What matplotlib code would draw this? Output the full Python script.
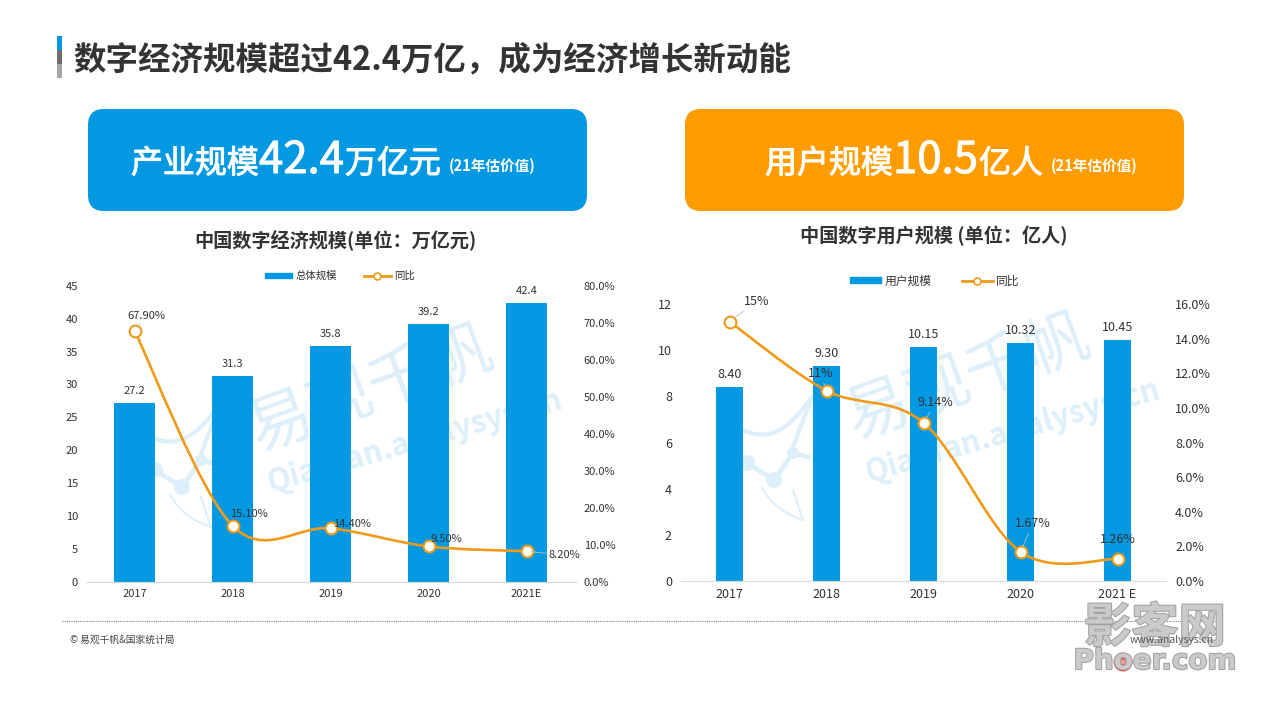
import matplotlib
matplotlib.use("Agg")
import matplotlib.pyplot as plt
import matplotlib.patheffects as pe
from matplotlib.lines import Line2D
from matplotlib.patches import Circle, FancyBboxPatch, PathPatch, Patch, Rectangle
from matplotlib.path import Path

plt.rcParams["font.family"] = ["Noto Sans CJK SC", "DejaVu Sans"]

BLUE = "#0398E2"
ORANGE = "#F09A1A"
DARK = "#333333"

years = ["2017", "2018", "2019", "2020", "2021E"]
years_right = ["2017", "2018", "2019", "2020", "2021 E"]

scale_values = [27.2, 31.3, 35.8, 39.2, 42.4]
scale_growth = [67.9, 15.1, 14.4, 9.5, 8.2]
scale_growth_labels = ["67.90%", "15.10%", "14.40%", "9.50%", "8.20%"]

user_values = [8.40, 9.30, 10.15, 10.32, 10.45]
user_growth = [15, 11, 9.14, 1.67, 1.26]
user_growth_labels = ["15%", "11%", "9.14%", "1.67%", "1.26%"]


def px_axes(fig, left, top, right, bottom):
    return fig.add_axes([left / 1280, 1 - bottom / 720, (right - left) / 1280, (bottom - top) / 720])


# Smoothed line like the office chart: bezier segments through the data points
def smooth_path(x, y):
    verts = [(x[0], y[0])]
    codes = [Path.MOVETO]
    n = len(x)
    for i in range(n - 1):
        x0, y0 = (x[i - 1], y[i - 1]) if i > 0 else (x[i], y[i])
        x3, y3 = (x[i + 2], y[i + 2]) if i + 2 < n else (x[i + 1], y[i + 1])
        verts.append((x[i] + (x[i + 1] - x0) / 6, y[i] + (y[i + 1] - y0) / 6))
        verts.append((x[i + 1] - (x3 - x[i]) / 6, y[i + 1] - (y3 - y[i]) / 6))
        verts.append((x[i + 1], y[i + 1]))
        codes += [Path.CURVE4] * 3
    return Path(verts, codes)


def draw_chart(fig, box, labels, values, growth, growth_labels, offsets, leaders, opts):
    ax = px_axes(fig, *box)
    ax.patch.set_alpha(0)
    xs = list(range(len(labels)))
    bars = ax.bar(xs, values, width=opts["bar_width"], color=BLUE, zorder=2)
    ax.bar_label(bars, labels=opts["value_labels"], padding=opts["label_pad"], fontsize=opts["fs"], color=DARK)
    ax.set_xlim(-0.5, 4.5)
    ax.set_ylim(0, opts["ymax"])
    ax.set_yticks(opts["yticks"])
    ax.set_xticks(xs, labels)
    ax.tick_params(length=0, labelsize=opts["fs"], labelcolor=DARK)
    ax.tick_params(axis="x", pad=opts["xpad"])
    ax.tick_params(axis="y", pad=opts["lpad"])
    for s in ["top", "left", "right"]:
        ax.spines[s].set_visible(False)
    ax.spines["bottom"].set_color("#D9D9D9")

    ax2 = ax.twinx()
    ax2.patch.set_alpha(0)
    ax2.set_ylim(0, opts["y2max"])
    ax2.set_yticks(opts["y2ticks"], [f"{t:.1f}%" for t in opts["y2ticks"]])
    ax2.tick_params(length=0, labelsize=opts["fs"], labelcolor=DARK, pad=opts["rpad"])
    for s in ax2.spines.values():
        s.set_visible(False)
    ax2.add_patch(PathPatch(smooth_path(xs, growth), fill=False, edgecolor=ORANGE, lw=1.9, capstyle="round", zorder=3))
    ax2.plot(xs, growth, ls="none", marker="o", ms=8.5, mfc="white", mec=ORANGE, mew=1.5, zorder=4)

    for i, txt in enumerate(growth_labels):
        arrow = dict(arrowstyle="-", color="#BFBFBF", lw=0.6, shrinkA=0, shrinkB=3) if leaders[i] else None
        ax2.annotate(txt, (xs[i], growth[i]), xytext=offsets[i], textcoords="offset pixels",
                     ha="center", va="center", fontsize=opts["fs"], color=DARK, arrowprops=arrow, zorder=5)

    handles = [
        Patch(color=BLUE, label=opts["bar_name"]),
        Line2D([], [], color=ORANGE, lw=2, marker="o", ms=5, mfc="white", mec=ORANGE, mew=1.2, label="同比"),
    ]
    fig.legend(handles=handles, loc="center", bbox_to_anchor=opts["legend_at"], ncol=2, frameon=False,
               fontsize=opts["legend_fs"], labelcolor=DARK, handlelength=2.6, handleheight=0.35,
               columnspacing=2.6, handletextpad=0.3)
    return ax


fig = plt.figure(figsize=(12.8, 7.2), dpi=100, facecolor="white")
bg = fig.add_axes([0, 0, 1, 1])
bg.set_xlim(0, 1280)
bg.set_ylim(720, 0)
bg.axis("off")

# title block
for top, h, c in [(36, 14, BLUE), (50, 14, "#6E6E6E"), (64, 14, "#A6A6A6")]:
    bg.add_patch(Rectangle((57, top), 5, h, color=c, lw=0))
bg.text(73, 69, "数字经济规模超过42.4万亿，成为经济增长新动能", fontsize=23.4, fontweight="bold", color=DARK, va="baseline")

# headline boxes
for left, c in [(88, BLUE), (685, "#FF9C00")]:
    bg.add_patch(FancyBboxPatch((left + 16, 125), 499 - 32, 102 - 32, boxstyle="round,pad=16",
                                fc=c, ec="none"))
thick = [pe.withStroke(linewidth=0.7, foreground="white")]
for x, txt, fs in [(131, "产业规模", 23), (259, "42.4", 31.5), (345, "万亿元", 23),
                   (765, "用户规模", 23), (893, "10.5", 31.5), (979, "亿人", 23)]:
    bg.text(x, 173, txt, fontsize=fs, color="white", va="baseline", path_effects=thick)
for x in [449, 1051]:
    bg.text(x, 171, "(21年估价值)", fontsize=10.5, color="white", fontweight="bold", va="baseline")

bg.text(335, 240, "中国数字经济规模(单位：万亿元)", fontsize=13.8, fontweight="bold", color=DARK, ha="center", va="center")
bg.text(934, 236, "中国数字用户规模 (单位：亿人)", fontsize=13.8, fontweight="bold", color=DARK, ha="center", va="center")

# pale qianfan watermark under the bars
WM = "#DDEFFA"
for dx, dy, big, small in [(-592, 7, (258, 452), (270, 492)), (0, 0, (855, 440), (868, 482))]:
    bg.text(big[0], big[1], "易观千帆", fontsize=46, color=WM, rotation=20, rotation_mode="anchor", va="baseline")
    bg.text(small[0], small[1], "Qianfan.analysys.cn", fontsize=22, fontweight="bold", color=WM,
            rotation=16, rotation_mode="anchor", va="baseline")
    nodes = [(747 + dx, 463 + dy), (774 + dx, 480 + dy), (793 + dx, 453 + dy), (808 + dx, 457 + dy)]
    bg.plot([n[0] for n in nodes], [n[1] for n in nodes], color=WM, lw=3.5)
    for n, r in zip(nodes[:3], [8, 8, 6]):
        bg.add_patch(Circle(n, r, color=WM, lw=0))
    wing = [(743 + dx, 430 + dy), (775 + dx, 445 + dy), (795 + dx, 420 + dy), (812 + dx, 397 + dy)]
    bg.add_patch(PathPatch(Path(wing, [Path.MOVETO, Path.CURVE4, Path.CURVE4, Path.CURVE4]), fill=False, ec=WM, lw=3))
    bg.plot([812 + dx, 793 + dx], [397 + dy, 447 + dy], color=WM, lw=3)
    tail = [(762 + dx, 487 + dy), (770 + dx, 505 + dy), (788 + dx, 515 + dy), (803 + dx, 520 + dy)]
    bg.add_patch(PathPatch(Path(tail, [Path.MOVETO, Path.CURVE4, Path.CURVE4, Path.CURVE4]), fill=False, ec=WM, lw=1.5))
    bg.plot([793 + dx, 803 + dx], [490 + dy, 520 + dy], color=WM, lw=1.5)

# footer
bg.plot([62, 1218], [621, 621], color="#808080", lw=0.8, ls=(0, (1, 1)))
bg.text(70, 640, "© 易观千帆&国家统计局", fontsize=7, color="#444444", va="center")

draw_chart(
    fig, (85.5, 286, 575.5, 581.5), years, scale_values, scale_growth, scale_growth_labels,
    offsets=[(12, 15), (16, 12), (22, 4), (18, 7), (38, -4)],
    leaders=[True, False, False, False, True],
    opts=dict(bar_width=0.42, ymax=45, yticks=list(range(0, 46, 5)), y2max=80, y2ticks=list(range(0, 81, 10)),
              value_labels=[f"{v:.1f}" for v in scale_values], label_pad=5, fs=8, xpad=5.5, lpad=5.5, rpad=6,
              bar_name="总体规模", legend_at=(340 / 1280, 1 - 276 / 720), legend_fs=7.5),
)
draw_chart(
    fig, (681, 304.3, 1166, 580.7), years_right, user_values, user_growth, user_growth_labels,
    offsets=[(27, 20), (-6, 17), (12, 20), (12, 28), (0, 19)],
    leaders=[True, True, True, True, False],
    opts=dict(bar_width=0.285, ymax=12, yticks=list(range(0, 13, 2)), y2max=16, y2ticks=list(range(0, 17, 2)),
              value_labels=[f"{v:.2f}" for v in user_values], label_pad=4.5, fs=9, xpad=5.5, lpad=6.5, rpad=6.5,
              bar_name="用户规模", legend_at=(935 / 1280, 1 - 281 / 720), legend_fs=8.5),
)

# site stamp over everything, bottom right
stamp = fig.add_axes([0, 0, 1, 1], zorder=10)
stamp.set_xlim(0, 1280)
stamp.set_ylim(720, 0)
stamp.axis("off")
edge = [pe.withStroke(linewidth=1.4, foreground="#9E9E9E")]
stamp.text(1155, 628, "影客网", fontsize=34, fontweight="bold", color="#CACACA", ha="center", va="center", path_effects=edge)
stamp.text(1155, 661, "Phoer.com", fontsize=20, fontweight="bold", color="#CACACA", ha="center", va="center",
           family="DejaVu Sans", path_effects=edge)
stamp.add_patch(Circle((1123, 662), 9.5, color="#E8504F", lw=0))
stamp.add_patch(Circle((1123, 662), 2.5, color="#F4A0A0", lw=0))
stamp.text(1172, 640, "www.analysys.cn", fontsize=7.5, color="#555555", ha="center", va="center")

fig.savefig("out.png", dpi=100)
